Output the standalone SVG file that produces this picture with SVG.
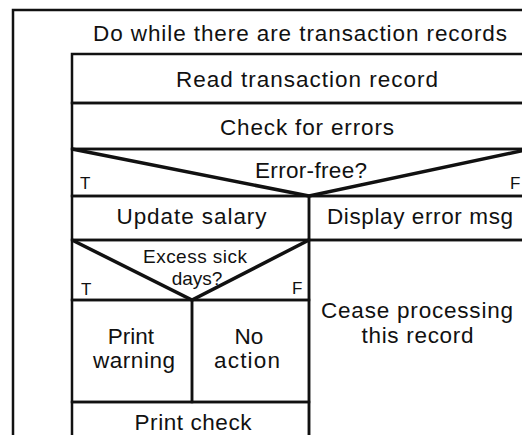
<svg xmlns="http://www.w3.org/2000/svg" width="522" height="435" viewBox="0 0 522 435">
<style>
.box{fill:none;stroke:#111;stroke-width:2.5}
.diag{fill:none;stroke:#111;stroke-width:3.5;stroke-linejoin:miter}
.t{font-family:"Liberation Sans",Arial,Helvetica,sans-serif;font-size:22.5px;fill:#111;text-anchor:middle}
.s{font-family:"Liberation Sans",Arial,Helvetica,sans-serif;font-size:19px;fill:#111;text-anchor:middle}
.tf{font-family:"Liberation Sans",Arial,Helvetica,sans-serif;font-size:17px;fill:#111}
</style>
<rect width="522" height="435" fill="#fff"/>
<g id="loop">
<rect class="box" x="13" y="10" width="580" height="500"/>
<text class="t" x="300" y="41" textLength="414" lengthAdjust="spacing">Do while there are transaction records</text>
</g>
<g id="read">
<rect class="box" x="72" y="54" width="480" height="49"/>
<text class="t" x="307" y="87" textLength="262" lengthAdjust="spacing">Read transaction record</text>
</g>
<g id="check">
<rect class="box" x="72" y="103" width="480" height="46"/>
<text class="t" x="307" y="135" textLength="174" lengthAdjust="spacing">Check for errors</text>
</g>
<g id="errorFree">
<rect class="box" x="72" y="149" width="480" height="47"/>
<polyline class="diag" points="72,149 309,196 530,149"/>
<text class="t" x="311" y="178" textLength="112" lengthAdjust="spacing">Error-free?</text>
<text class="tf" x="80" y="189">T</text>
<text class="tf" x="510" y="189">F</text>
</g>
<g id="update">
<rect class="box" x="72" y="196" width="237" height="44"/>
<text class="t" x="191.5" y="224" textLength="150" lengthAdjust="spacing">Update salary</text>
</g>
<g id="display">
<rect class="box" x="309" y="196" width="240" height="44"/>
<text class="t" x="420" y="224" textLength="186" lengthAdjust="spacing">Display error msg</text>
</g>
<g id="excessSick">
<rect class="box" x="72" y="240" width="237" height="60"/>
<polyline class="diag" points="72,240 192,300 309,240"/>
<text class="s" x="195" y="263" textLength="104" lengthAdjust="spacing">Excess sick</text>
<text class="s" x="197" y="285">days?</text>
<text class="tf" x="81" y="295">T</text>
<text class="tf" x="292" y="294">F</text>
</g>
<g id="printWarning">
<rect class="box" x="72" y="300" width="120" height="102"/>
<text class="t" x="131" y="344">Print</text>
<text class="t" x="134" y="368" textLength="82" lengthAdjust="spacing">warning</text>
</g>
<g id="noAction">
<rect class="box" x="192" y="300" width="117" height="102"/>
<text class="t" x="249" y="344">No</text>
<text class="t" x="247" y="368" textLength="66" lengthAdjust="spacing">action</text>
</g>
<g id="cease">
<rect class="box" x="309" y="240" width="240" height="250"/>
<text class="t" x="417" y="318" textLength="192" lengthAdjust="spacing">Cease processing</text>
<text class="t" x="417.5" y="343" textLength="112" lengthAdjust="spacing">this record</text>
</g>
<g id="printCheck">
<rect class="box" x="72" y="402" width="237" height="100"/>
<text class="t" x="193" y="430" textLength="117" lengthAdjust="spacing">Print check</text>
</g>
<g id="connectors"/>
</svg>
